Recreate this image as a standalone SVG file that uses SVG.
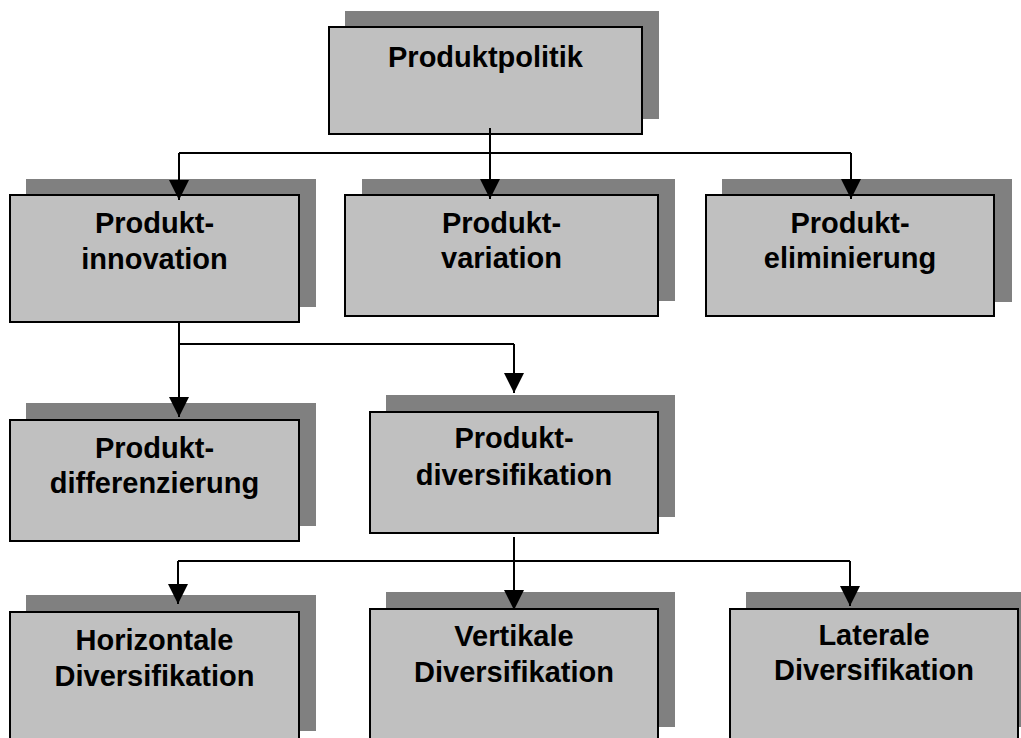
<svg xmlns="http://www.w3.org/2000/svg" width="1021" height="738" viewBox="0 0 1021 738">
  <style>
    .shadow { fill: #808080; }
    .box { fill: #c0c0c0; stroke: #000; stroke-width: 2; }
    .label { font-family: "Liberation Sans", Arial, sans-serif; font-weight: bold; font-size: 29px; fill: #000; text-anchor: middle; }
    .wire { fill: none; stroke: #000; stroke-width: 2; }
    .arrow { fill: none; stroke: #000; stroke-width: 2; marker-end: url(#head); }
  </style>
  <defs>
    <marker id="head" markerUnits="userSpaceOnUse" markerWidth="20" markerHeight="20" refX="20" refY="10" orient="auto">
      <path d="M0,0 L20,10 L0,20 Z" fill="#000"/>
    </marker>
  </defs>
  <rect width="1021" height="738" fill="#fff"/>

  <!-- level 0 -->
  <g id="produktpolitik">
    <rect class="shadow" x="345" y="11" width="314" height="108"/>
    <rect class="box" x="329" y="27" width="313" height="107"/>
    <text class="label" x="485.5" y="67">Produktpolitik</text>
  </g>

  <!-- level 1 -->
  <g id="produktinnovation">
    <rect class="shadow" x="26" y="179" width="290" height="128"/>
    <rect class="box" x="10" y="195" width="289" height="127"/>
    <text class="label" x="154.5" y="233">Produkt-</text>
    <text class="label" x="154.5" y="269">innovation</text>
  </g>
  <g id="produktvariation">
    <rect class="shadow" x="362" y="179" width="313" height="122"/>
    <rect class="box" x="345" y="195" width="313" height="121"/>
    <text class="label" x="501.5" y="233">Produkt-</text>
    <text class="label" x="501.5" y="268">variation</text>
  </g>
  <g id="produkteliminierung">
    <rect class="shadow" x="722" y="179" width="290" height="123"/>
    <rect class="box" x="706" y="195" width="288" height="121"/>
    <text class="label" x="850" y="233">Produkt-</text>
    <text class="label" x="850" y="268">eliminierung</text>
  </g>

  <!-- level 2 -->
  <g id="produktdifferenzierung">
    <rect class="shadow" x="26" y="403" width="290" height="123"/>
    <rect class="box" x="10" y="420" width="289" height="121"/>
    <text class="label" x="154.5" y="458">Produkt-</text>
    <text class="label" x="154.5" y="493">differenzierung</text>
  </g>
  <g id="produktdiversifikation">
    <rect class="shadow" x="386" y="395" width="289" height="122"/>
    <rect class="box" x="370" y="412" width="288" height="121"/>
    <text class="label" x="514" y="448">Produkt-</text>
    <text class="label" x="514" y="485">diversifikation</text>
  </g>

  <!-- level 3 -->
  <g id="horizontale-diversifikation">
    <rect class="shadow" x="26" y="595" width="290" height="136"/>
    <rect class="box" x="10" y="612" width="289" height="140"/>
    <text class="label" x="154.5" y="650">Horizontale</text>
    <text class="label" x="154.5" y="686">Diversifikation</text>
  </g>
  <g id="vertikale-diversifikation">
    <rect class="shadow" x="386" y="592" width="289" height="135"/>
    <rect class="box" x="370" y="609" width="288" height="140"/>
    <text class="label" x="514" y="646">Vertikale</text>
    <text class="label" x="514" y="682">Diversifikation</text>
  </g>
  <g id="laterale-diversifikation">
    <rect class="shadow" x="746" y="592" width="290" height="135"/>
    <rect class="box" x="730" y="609" width="288" height="140"/>
    <text class="label" x="874" y="645">Laterale</text>
    <text class="label" x="874" y="680">Diversifikation</text>
  </g>

  <!-- connectors -->
  <g id="connectors">
    <path class="wire" d="M179,153 H851"/>
    <path class="arrow" d="M490,128 V199"/>
    <path class="arrow" d="M179,153 V200"/>
    <path class="arrow" d="M851,153 V199"/>

    <path class="wire" d="M179,344 H514"/>
    <path class="arrow" d="M179,322 V417"/>
    <path class="arrow" d="M514,344 V393"/>

    <path class="wire" d="M178,561 H850"/>
    <path class="arrow" d="M514,537 V610"/>
    <path class="arrow" d="M178,561 V604"/>
    <path class="arrow" d="M850,561 V606"/>
  </g>
</svg>
